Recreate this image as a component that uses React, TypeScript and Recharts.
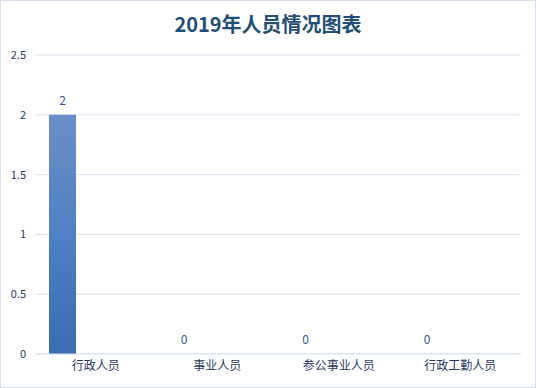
import React from "react";
import { BarChart, Bar, XAxis, YAxis, CartesianGrid } from "recharts";

// categories and values
const categories = ["行政人员", "事业人员", "参公事业人员", "行政工勤人员"];
const personnel = [2, 0, 0, 0];
// the source chart reserves a second (empty) series slot in each category
const emptySeries = [null, null, null, null];
const yTicks = [0, 0.5, 1, 1.5, 2, 2.5];

const data = categories.map((name, i) => ({
  name,
  value: personnel[i],
  empty: emptySeries[i],
}));

const FONT = "'Noto Sans CJK SC', 'Noto Sans', sans-serif";

// value label drawn above each bar, also for zero-height bars
const renderValueLabel = (props: any) => {
  const { x, y, width, value } = props;
  return (
    <text
      x={x + width / 2}
      y={y - 10}
      textAnchor="middle"
      fill="#2f5597"
      fontSize={12}
      fontFamily={FONT}
    >
      {value}
    </text>
  );
};

const App = () => {
  return (
    <div
      style={{
        position: "absolute",
        left: 0,
        top: 0,
        width: 536,
        height: 388,
        boxSizing: "border-box",
        border: "1px solid #d5dfec",
        background: "#fff",
        fontFamily: FONT,
      }}
    >
      <div
        style={{
          position: "absolute",
          left: 0,
          right: 0,
          top: 8,
          textAlign: "center",
          fontSize: 20,
          fontWeight: "bold",
          color: "#1f4e79",
          lineHeight: "30px",
        }}
      >
        2019年人员情况图表
      </div>
      <BarChart
        width={534}
        height={386}
        data={data}
        margin={{ top: 54, right: 14, bottom: 0, left: 0 }}
        barSize={27}
        barGap={40}
        style={{ position: "absolute", left: 0, top: 0 }}
      >
        <defs>
          <linearGradient id="barFill" x1="0" y1="0" x2="0" y2="1">
            <stop offset="0%" stopColor="#6b8fc7" />
            <stop offset="50%" stopColor="#4f80c3" />
            <stop offset="100%" stopColor="#3b6caf" />
          </linearGradient>
        </defs>
        <CartesianGrid vertical={false} stroke="#d9e3f0" />
        <XAxis
          dataKey="name"
          height={33}
          tickLine={false}
          tickSize={0}
          tickMargin={7}
          axisLine={{ stroke: "#d9e3f0" }}
          tick={{ fill: "#1f3864", fontSize: 12, fontFamily: FONT }}
          interval={0}
        />
        <YAxis
          width={34}
          domain={[0, 2.5]}
          ticks={yTicks}
          axisLine={false}
          tickLine={false}
          tickSize={0}
          tickMargin={9}
          tick={{ fill: "#1f3864", fontSize: 11, fontFamily: FONT }}
        />
        <Bar
          dataKey="value"
          fill="url(#barFill)"
          minPointSize={0.01}
          isAnimationActive={false}
          label={renderValueLabel}
        />
        <Bar dataKey="empty" fill="transparent" isAnimationActive={false} />
      </BarChart>
    </div>
  );
};

export default App;
